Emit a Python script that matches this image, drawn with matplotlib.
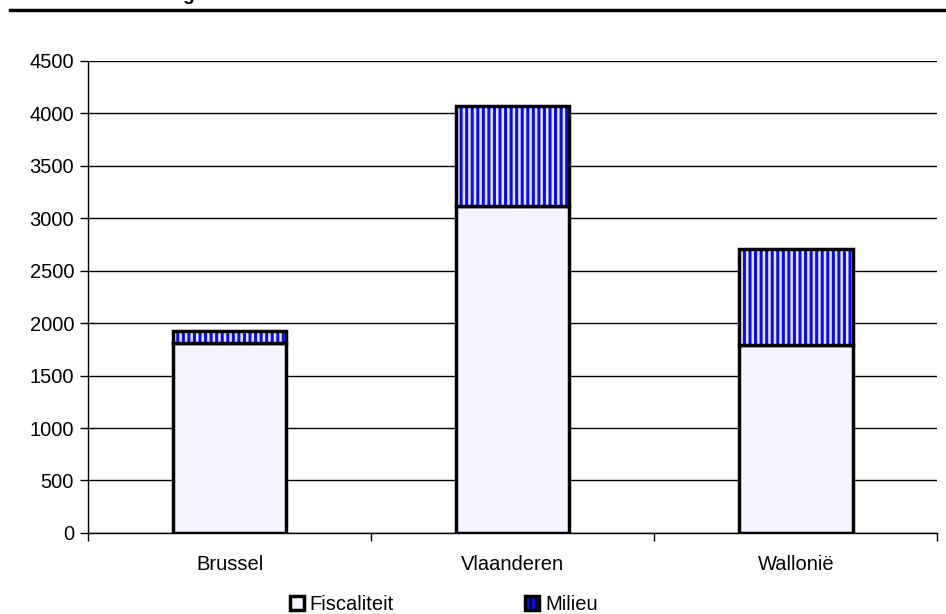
import numpy as np
import matplotlib.pyplot as plt
from matplotlib.patches import Patch

plt.rcParams['font.family'] = ['Liberation Sans', 'DejaVu Sans']
plt.rcParams['hatch.linewidth'] = 1.8

# data
regions = ['Brussel', 'Vlaanderen', 'Wallonië']
fiscaliteit = [1810, 3120, 1795]
milieu = [115, 950, 915]

x = np.arange(len(regions))
w = 0.4

fig = plt.figure(figsize=(9.46, 6.14), dpi=100)
ax = fig.add_axes([0.093, 0.132, 0.898, 0.769])

# horizontal grid lines
ax.set_axisbelow(True)
ax.yaxis.grid(True, color='black', linewidth=1.0)

# bottom segment
ax.bar(x, fiscaliteit, w, color='#f5f5ff', edgecolor='black', linewidth=2.5)
# top segment: striped fill, then outline
ax.bar(x, milieu, w, bottom=fiscaliteit, color='#0a0aff', edgecolor='#e8e8ff',
       hatch='|||', linewidth=0)
ax.bar(x, milieu, w, bottom=fiscaliteit, fill=False, edgecolor='black', linewidth=2.5)

ax.set_xlim(-0.5, 2.5)
ax.set_ylim(0, 4500)
ax.set_yticks(np.arange(0, 4501, 500))
ax.set_xticks(x)
ax.set_xticklabels(regions)
ax.set_xticks([-0.5, 0.5, 1.5, 2.5], minor=True)
ax.tick_params(axis='x', which='major', length=0, pad=16, labelsize=14.5)
ax.tick_params(axis='x', which='minor', length=6, width=1, direction='out')
ax.tick_params(axis='y', length=6, width=1, direction='out', labelsize=14.5, pad=4)

for s in ['top', 'right']:
    ax.spines[s].set_visible(False)
ax.spines['left'].set_linewidth(1.0)
ax.spines['bottom'].set_linewidth(1.0)

handles = [Patch(facecolor='#f5f5ff', edgecolor='black', linewidth=2.5, label='Fiscaliteit'),
           Patch(facecolor='#0a0aff', edgecolor='black', linewidth=2.5, hatch='|||', label='Milieu')]
fig.legend(handles=handles, loc='lower center', bbox_to_anchor=(0.469, -0.03), ncol=2,
           frameon=False, fontsize=14.5, columnspacing=6.5, handlelength=0.7,
           handleheight=0.7, handletextpad=0.3)

# cut-off title line at the top
fig.add_artist(plt.Line2D([0.0106, 1.0], [0.984, 0.984], color='black', linewidth=2.5))
fig.text(0.193, 1.0, 'g', fontsize=14, fontweight='bold', va='baseline', ha='left')

fig.savefig('out.png', dpi=100)
